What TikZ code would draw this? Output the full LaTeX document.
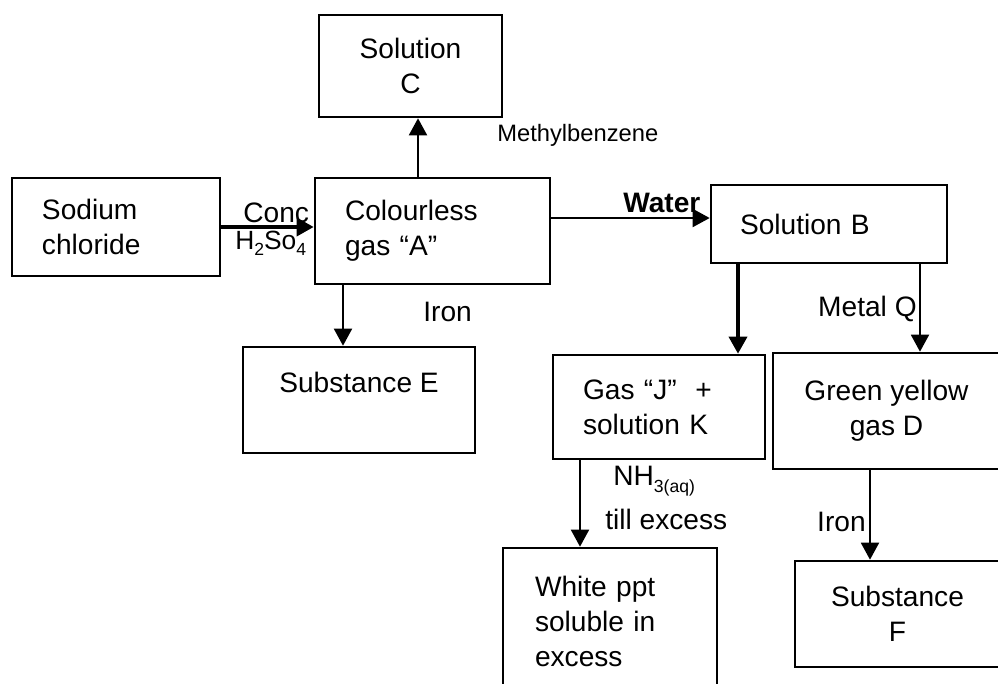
\documentclass[tikz,border=0pt]{standalone}
\usepackage{fontspec}
\setmainfont{Liberation Sans}
\usetikzlibrary{arrows.meta,positioning,calc}
\tikzset{
  box/.style={draw=black,line width=1.5pt,font=\fontsize{16}{20}\selectfont,inner xsep=6mm,inner ysep=0pt},
  lbox/.style={box,align=left},
  cbox/.style={box,align=center},
  arr/.style={-{Triangle[length=3.4mm,width=3.6mm]},line width=1.1pt},
  tarr/.style={arr,line width=2pt},
  lbl/.style={font=\fontsize{16}{19}\selectfont,inner sep=0pt},
}
\newcommand{\lowsub}[1]{\raisebox{-0.45ex}{\fontsize{10}{10}\selectfont #1}}

\begin{document}
\begin{tikzpicture}[x=0.2mm,y=-0.2mm]
  \clip (0,0) rectangle (998,683);
  % boxes
  \node[lbox,minimum width=41.6mm,minimum height=19.6mm,text width=29.6mm] (nacl) at (116,227) {Sodium\\chloride};
  \node[lbox,minimum width=47mm,minimum height=21.2mm,text width=35mm] (gasA) at (432.5,231) {Colourless\\gas “A”};
  \node[cbox,minimum width=36.6mm,minimum height=20.4mm] (solC) at (410.5,66) {Solution\\C};
  \node[lbox,minimum width=47.2mm,minimum height=15.6mm,text width=35.6mm,inner xsep=5.8mm] (solB) at (829,224) {Solution B};
  \node[cbox,minimum width=46.4mm,minimum height=21.2mm] (subE) at (359,400) {Substance E\\ ~};
  \node[lbox,minimum width=42.4mm,minimum height=20.8mm,text width=30.4mm] (gasJ) at (659,407) {Gas “J”~~+\\solution K};
  \node[cbox,minimum width=45.4mm,minimum height=23.2mm] (gasD) at (886.5,411) {Green yellow\\gas D};
  \node[lbox,minimum width=42.8mm,minimum height=29.4mm,text width=30mm,inner xsep=6.4mm] (ppt) at (610,621.5) {White ppt\\soluble in\\excess};
  \node[cbox,minimum width=41mm,minimum height=21.2mm] (subF) at (897.5,614) {Substance\\F};
  % arrows
  \draw[tarr] (nacl.east) -- (nacl.east -| gasA.west);
  \coordinate (w) at ([yshift=2.6mm]gasA.east);
  \draw[arr] (w) -- (w -| solB.west);
  \coordinate (m) at ([xshift=-2.9mm]gasA.north);
  \draw[arr] (m) -- (m |- solC.south);
  \coordinate (fe) at ([xshift=-17.9mm]gasA.south);
  \draw[arr] (fe) -- (fe |- subE.north);
  \coordinate (bj) at ([xshift=-18.2mm]solB.south);
  \draw[tarr] (bj) -- (bj |- gasJ.north);
  \coordinate (bd) at ([xshift=18.2mm]solB.south);
  \draw[arr] (bd) -- (bd |- gasD.north);
  \coordinate (jp) at ([xshift=-15.8mm]gasJ.south);
  \draw[arr] (jp) -- (jp |- ppt.north);
  \coordinate (df) at ([xshift=-3.3mm]gasD.south);
  \draw[arr] (df) -- (df |- subF.north);
  % labels
  \node[lbl,anchor=west] (conc) at (243,213) {Conc};
  \node[lbl,anchor=west,font=\fontsize{15}{18}\selectfont] (acid) at (235,243) {H\lowsub{2}So\lowsub{4}};
  \node[lbl,anchor=west,font=\fontsize{16}{19}\selectfont\bfseries] (water) at (623,203) {Water};
  \node[lbl,anchor=west,font=\fontsize{13.5}{16}\selectfont] (meth) at (497,135) {Methylbenzene};
  \node[lbl,anchor=west] (iron1) at (423,312) {Iron};
  \node[lbl,anchor=east] (metq) at (917,309) {Metal Q};
  \node[lbl,anchor=west] (nh3) at (613,481) {NH\lowsub{3(aq)}};
  \node[lbl,anchor=west] (till) at (605,519) {till excess};
  \node[lbl,anchor=east] (iron2) at (866,522) {Iron};
\end{tikzpicture}
\end{document}
